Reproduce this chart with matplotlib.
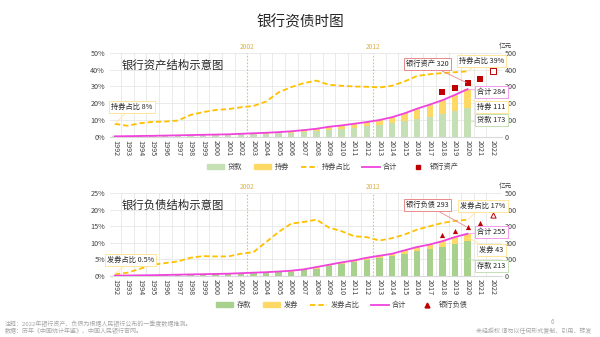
import numpy as np
import matplotlib
matplotlib.use("Agg")
import matplotlib.pyplot as plt
from matplotlib.lines import Line2D
from matplotlib.patches import Patch

plt.rcParams['font.family'] = ['Noto Sans CJK SC', 'DejaVu Sans']

years = [str(y) for y in range(1992, 2023)]

# 资产端 (右轴单位: 亿元, 左轴: 占比%)
asset_total = [3, 4, 5, 6, 7.5, 9, 10.5, 12, 13.5, 15, 18, 21, 24, 28, 33,
               40, 48, 60, 68, 78, 88, 100, 117, 140, 168, 192, 218, 250, 284]
bond_share = [7.7, 6.6, 8.1, 8.9, 9.1, 9.7, 13.0, 14.7, 16.0, 16.5, 17.6, 18.4, 21.0, 26.5, 29.6,
              32.0, 33.5, 31.0, 30.4, 30.0, 29.8, 29.4, 30.4, 33.0, 36.3, 37.3, 38.0, 38.5, 39.0]
asset_years = ['2018', '2019', '2020', '2021']
bank_assets = [270, 290, 320, 345]
asset_2022 = 395

# 负债端
liab_total = [2, 3, 4, 5, 6.5, 8, 9.5, 11, 12.5, 14, 17, 20, 23, 27, 32,
              40, 54, 68, 82, 94, 110, 122, 134, 155, 175, 190, 210, 235, 255]
issue_share = [0.5, 1.0, 2.2, 3.4, 3.9, 4.4, 5.5, 6.0, 5.9, 5.9, 6.7, 7.2, 10.2, 13.3, 15.8,
               16.3, 17.0, 14.6, 13.5, 12.0, 11.7, 10.7, 11.4, 12.5, 14.0, 15.0, 16.0, 16.6, 17.0]
bank_liab = [250, 270, 293, 320]
liab_2022 = 370

GREEN1 = '#c5e0b4'
GREEN2 = '#a9d18e'
YELLOW = '#ffd966'
ORANGE = '#ffc000'
MAGENTA = '#f043dc'
RED = '#c00000'
GOLD = '#dcb24a'
TXT = '#404040'

fig = plt.figure(figsize=(6, 3.37), dpi=100)
fig.text(0.5, 0.935, '银行资债时图', ha='center', va='center', fontsize=10.5, color='#262626')


def draw_panel(rect, total, share, share_max, marks, mark_2022, marker, green, title):
    ax = fig.add_axes(rect)
    ax2 = ax.twinx()
    x = np.arange(len(years))
    n = len(total)
    tot = np.array(total)
    sh = np.array(share)
    high = tot * sh / 100
    low = tot - high

    ax.set_xlim(-0.4, 30.7)
    ax.set_ylim(0, share_max)
    ax2.set_ylim(0, 500)
    step = share_max / 5
    ax.set_yticks(np.arange(0, share_max + 0.1, step))
    ax.set_yticklabels([f'{int(v)}%' for v in np.arange(0, share_max + 0.1, step)])
    ax2.set_yticks(np.arange(0, 501, 100))
    ax.set_xticks(x)
    ax.set_xticklabels(years, rotation=-90)
    minor = [v for v in x[:-1] + 0.5 if v not in (10.5, 20.5)]
    ax.set_xticks(minor, minor=True)
    ax.grid(True, which='major', axis='y', color='#e6e6e6', lw=0.6)
    ax.grid(True, which='minor', axis='x', color='#e6e6e6', lw=0.6)
    ax.set_axisbelow(True)
    for a in (ax, ax2):
        a.tick_params(length=0, labelsize=5.2, colors=TXT, which='both')
        for s in a.spines.values():
            s.set_visible(False)
    ax.spines['bottom'].set_visible(True)
    ax.spines['bottom'].set_color('#d9d9d9')
    ax.tick_params(axis='x', pad=2)

    for xv, lab in ((10.5, '2002'), (20.5, '2012')):
        ax.axvline(xv, color=GOLD, ls=(0, (1.5, 1.5)), lw=0.8, alpha=0.8)
        ax.text(xv, share_max * 1.02, lab, ha='center', va='bottom', fontsize=4.8, color=GOLD)

    ax.plot(x[:n], sh, color=ORANGE, ls=(0, (3, 1.6)), lw=1.3, zorder=3)

    ax2.bar(x[:n], low, width=0.5, color=green, zorder=2)
    ax2.bar(x[:n], high, bottom=low, width=0.5, color=YELLOW, zorder=2)
    ax2.plot(x[:n], tot, color=MAGENTA, lw=1.3, zorder=4)
    mx = [years.index(y) for y in asset_years]
    ax2.scatter(mx, marks, marker=marker, s=14, color=RED, zorder=5, lw=0)
    ax2.scatter([30], [mark_2022], marker=marker, s=14, facecolor='white',
                edgecolor=RED, lw=0.7, zorder=5)
    ax2.tick_params(axis='y', pad=2)
    ax2.text(31.0, 520, '亿元', fontsize=4.8, color=TXT, ha='center', va='bottom')

    ax.text(0.03, 0.85, title, transform=ax.transAxes, fontsize=8.2, color='#262626',
            ha='left', va='center')
    return ax, ax2, low, high, tot, sh


def box(ax, text, xy, xytext, ec, fs=5.2):
    ax.annotate(text, xy=xy, xytext=xytext, ha='center', va='center', fontsize=fs,
                color='#262626', zorder=6,
                bbox=dict(boxstyle='square,pad=0.3', fc='white', ec=ec, lw=0.7),
                arrowprops=dict(arrowstyle='-', color=ec, lw=0.6, shrinkA=0, shrinkB=1))


def legend(handles, labels, anchor):
    fig.legend(handles, labels, loc='center', bbox_to_anchor=anchor, ncol=5,
               frameon=False, fontsize=5.2, handlelength=2.4, handleheight=0.6,
               handletextpad=0.5, columnspacing=1.6, labelcolor=TXT)


# ---- top panel ----
ax, ax2, low, high, tot, sh = draw_panel(
    [0.183, 0.594, 0.653, 0.249], asset_total, bond_share, 50,
    bank_assets, asset_2022, 's', GREEN1, '银行资产结构示意图')
box(ax, '持券占比 8%', (0, sh[0]), (1.35, 17.9), '#ffe699')
box(ax2, '银行资产 320', (28, 320), (24.8, 434), '#e88a8a')
box(ax2, '持券占比 39%', (28, sh[-1] * 10), (29.1, 452), '#ffe699')
box(ax2, '合计 284', (28, 284), (29.9, 268), '#f49de9')
box(ax2, '持券 111', (28, low[-1] + high[-1] / 2), (29.9, 179), '#ffe699')
box(ax2, '贷款 173', (28, low[-1] / 2), (29.9, 101), '#c5e0b4')

h1 = [Patch(color=GREEN1), Patch(color=YELLOW),
      Line2D([], [], color=ORANGE, ls=(0, (3, 1.6)), lw=1.3),
      Line2D([], [], color=MAGENTA, lw=1.3),
      Line2D([], [], color=RED, marker='s', ls='none', markersize=3.5)]
legend(h1, ['贷款', '持券', '持券占比', '合计', '银行资产'], (0.555, 0.504))

# ---- bottom panel ----
bx, bx2, low, high, tot, sh = draw_panel(
    [0.183, 0.181, 0.653, 0.246], liab_total, issue_share, 25,
    bank_liab, liab_2022, '^', GREEN2, '银行负债结构示意图')
box(bx, '发券占比 0.5%', (0, sh[0]), (1.25, 4.8), '#ffe699')
box(bx2, '银行负债 293', (28, 293), (24.8, 428), '#e88a8a')
box(bx2, '发券占比 17%', (28, sh[-1] * 20), (29.2, 422), '#ffe699')
box(bx2, '合计 255', (28, 255), (29.9, 265), '#f49de9')
box(bx2, '发券 43', (28, low[-1] + high[-1] / 2), (29.9, 157), '#ffe699')
box(bx2, '存款 213', (28, low[-1] / 2), (29.9, 60), '#c5e0b4')

h2 = [Patch(color=GREEN2), Patch(color=YELLOW),
      Line2D([], [], color=ORANGE, ls=(0, (3, 1.6)), lw=1.3),
      Line2D([], [], color=MAGENTA, lw=1.3),
      Line2D([], [], color=RED, marker='^', ls='none', markersize=3.5)]
legend(h2, ['存款', '发券', '发券占比', '合计', '银行负债'], (0.57, 0.095))

fig.text(0.008, 0.04, '注释：2022年银行资产、负债为根据人民银行公布的一季度数据推测。',
         fontsize=4.3, color='#a6a6a6', va='center')
fig.text(0.008, 0.018, '数据：历年《中国统计年鉴》、中国人民银行官网。',
         fontsize=4.3, color='#a6a6a6', va='center')
fig.text(0.92, 0.045, '6', fontsize=4.5, color='#a6a6a6', ha='center', va='center')
fig.text(0.985, 0.018, '未经授权 请勿以任何形式复制、引用、转发', fontsize=4.3,
         color='#a6a6a6', ha='right', va='center')

fig.savefig('out.png', dpi=100)
